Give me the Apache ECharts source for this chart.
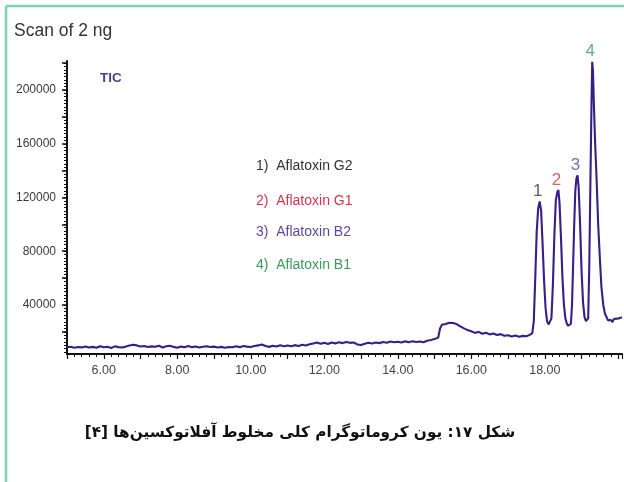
<!DOCTYPE html>
<html>
<head>
<meta charset="utf-8">
<script src="https://cdn.jsdelivr.net/npm/echarts@6/dist/echarts.min.js"></script>
<style>
html,body{margin:0;padding:0;background:#fff;}
#chart{width:624px;height:482px;}
</style>
</head>
<body>
<div id="chart"></div>
<script>
// Retention time (min)
const retentionTime = [
  5.0,5.1,5.2,5.3,5.4,5.5,5.6,5.7,5.8,5.9,
  6.0,6.1,6.2,6.3,6.4,6.5,6.6,6.7,6.8,6.9,
  7.0,7.1,7.2,7.3,7.4,7.5,7.6,7.7,7.8,7.9,
  8.0,8.1,8.2,8.3,8.4,8.5,8.6,8.7,8.8,8.9,
  9.0,9.1,9.2,9.3,9.4,9.5,9.6,9.7,9.8,9.9,
  10.0,10.1,10.2,10.3,10.4,10.5,10.6,10.7,10.8,10.9,
  11.0,11.1,11.2,11.3,11.4,11.5,11.6,11.7,11.8,11.9,
  12.0,12.1,12.2,12.3,12.4,12.5,12.6,12.7,12.8,12.9,
  13.0,13.1,13.2,13.3,13.4,13.5,13.6,13.7,13.8,13.9,
  14.0,14.1,14.2,14.3,14.4,14.5,14.6,14.7,14.8,14.9,
  15.0,15.1,15.15,15.2,15.25,15.3,15.35,15.4,15.45,15.5,15.55,15.6,15.65,15.7,15.8,15.9,
  16.0,16.1,16.2,16.3,16.4,16.5,16.6,16.7,16.8,16.9,
  17.0,17.1,17.2,17.3,17.4,17.5,17.6,17.66,
  17.70,17.74,17.78,17.82,17.86,17.90,17.94,17.98,18.02,18.06,18.10,18.14,18.18,
  18.22,18.26,18.30,18.34,18.37,18.40,18.44,18.48,18.52,18.56,18.60,18.64,18.68,18.71,
  18.74,18.77,18.80,18.83,18.86,18.89,18.92,18.96,19.00,19.04,19.08,19.12,19.15,
  19.18,19.21,19.24,19.27,19.29,19.31,19.34,19.37,19.41,19.45,19.50,19.54,19.59,19.64,19.68,
  19.72,19.76,19.80,19.84,19.88,19.92,19.96,20.00,20.04,20.08,20.10
];
// Total ion current abundance
const ticAbundance = [
  8600,8900,8200,8700,8400,9100,8300,8800,8100,9300,
  8500,8900,8000,9200,8600,8300,9000,9800,10400,9900,
  9100,9500,8700,9200,8900,9600,8400,9300,9700,8800,
  8200,9000,8500,9400,8600,9100,8300,8900,9300,8700,
  9000,8400,8800,8200,8700,8500,9200,8600,9400,9000,
  8700,9500,9900,10600,9400,8800,9600,9100,10000,9300,
  9800,9200,10100,9500,10400,9800,10700,11300,12100,11200,
  11800,11000,12000,11400,12200,11600,12500,11800,12100,10600,
  10200,11100,11900,11300,12000,11600,12400,11900,12800,12200,
  12600,12000,12900,12300,13000,12400,12800,12200,13300,13900,
  14600,15800,22500,25200,24600,25900,25300,26800,27500,26600,27200,25800,25100,24100,22600,21300,
  20400,19200,20000,18600,19300,18100,18800,17600,18300,17100,
  17500,16600,17200,16400,17000,16700,17900,19000,
  28000,60000,95000,112000,117000,110000,85000,58000,38000,28000,25500,25000,30000,
  55000,92000,118000,124000,125500,116000,90000,60000,40000,30000,26000,24500,23800,26000,
  40000,70000,100000,125000,134000,136500,128000,100000,65000,42000,31000,28000,27500,
  30000,70000,130000,190000,221000,214000,185000,160000,133000,101000,73500,53400,40000,33000,31000,
  28500,27600,28800,27200,29600,30400,29800,31000,30200,31300,30800
];

const peakTimes = [17.86, 18.37, 18.89, 19.29];
const peakHeights = [117000, 125500, 136500, 221000];
const peakNumbers = ['1', '2', '3', '4'];
const compoundNames = ['1)  Aflatoxin G2', '2)  Aflatoxin G1', '3)  Aflatoxin B2', '4)  Aflatoxin B1'];
const compoundColors = ['#333333', '#d2364f', '#5b4a9e', '#3d9a5a'];

const xLabelValues = [6, 8, 10, 12, 14, 16, 18];
const yLabelValues = [40000, 80000, 120000, 160000, 200000];
const yMinorTickValues = [];
for (let v = 5000; v <= 220000; v += 2500) yMinorTickValues.push(v);
const yMajorTickValues = [20000, 40000, 60000, 80000, 100000, 120000, 140000, 160000, 180000, 200000, 220000];

const titleText = 'Scan of 2 ng';
const ticText = 'TIC';
const captionText = '\u202Bشکل ۱۷: یون کروماتوگرام کلی مخلوط آفلاتوکسین\u200Cها [۴]\u202C';

const lineData = retentionTime.map((t, i) => [t, ticAbundance[i]]);
const peakData = peakTimes.map((t, i) => ({
  value: [t, peakHeights[i]],
  label: { formatter: peakNumbers[i], color: compoundColors[i] }
}));

const chart = echarts.init(document.getElementById('chart'), null, { renderer: 'canvas' });

const legendGraphics = compoundNames.map((name, i) => ({
  type: 'text',
  left: 256,
  top: [159, 194, 225, 258][i],
  style: {
    text: name,
    fill: compoundColors[i],
    font: '14px "Liberation Sans", Arial, sans-serif'
  }
}));

chart.setOption({
  animation: false,
  backgroundColor: '#ffffff',
  grid: { left: 67, right: 2, top: 61, bottom: 128, containLabel: false },
  xAxis: {
    type: 'value',
    min: 5,
    max: 20.1,
    interval: 1,
    axisLine: { lineStyle: { color: '#111', width: 2 } },
    axisTick: { show: true, length: 5, lineStyle: { color: '#111', width: 1.2 } },
    minorTick: { show: true, splitNumber: 5, length: 3, lineStyle: { color: '#111', width: 1 } },
    splitLine: { show: false },
    axisLabel: {
      customValues: xLabelValues,
      formatter: v => v.toFixed(2),
      margin: 10,
      color: '#444',
      fontSize: 12.5,
      fontFamily: 'Liberation Sans, Arial, sans-serif'
    }
  },
  yAxis: [{
    type: 'value',
    min: 3500,
    max: 221600,
    axisLine: { show: true, lineStyle: { color: '#111', width: 2 } },
    axisTick: { show: true, customValues: yMinorTickValues, length: 3, lineStyle: { color: '#111', width: 1 } },
    splitLine: { show: false },
    axisLabel: {
      customValues: yLabelValues,
      formatter: v => String(v),
      margin: 11,
      color: '#3a3a3a',
      fontSize: 12,
      fontFamily: 'Liberation Sans, Arial, sans-serif'
    }
  }, {
    type: 'value',
    min: 3500,
    max: 221600,
    position: 'left',
    offset: 0,
    axisLine: { show: false },
    axisTick: { show: true, customValues: yMajorTickValues, length: 5, lineStyle: { color: '#111', width: 1.5 } },
    splitLine: { show: false },
    axisLabel: { show: false }
  }],
  series: [{
    type: 'line',
    data: lineData,
    showSymbol: false,
    symbol: 'none',
    smooth: false,
    lineStyle: { color: '#3a1e86', width: 2.1 },
    silent: true
  }, {
    type: 'scatter',
    data: peakData,
    symbolSize: 1,
    itemStyle: { color: 'rgba(0,0,0,0)' },
    label: {
      show: true,
      position: 'top',
      distance: 1,
      offset: [-2, 0],
      fontSize: 17,
      fontFamily: 'Liberation Sans, Arial, sans-serif'
    },
    silent: true
  }],
  graphic: [
    { type: 'line', shape: { x1: 6, y1: 6, x2: 624, y2: 6 }, style: { stroke: '#7bd3b0', lineWidth: 2.5 } },
    { type: 'line', shape: { x1: 6, y1: 6, x2: 6, y2: 482 }, style: { stroke: '#7bd3b0', lineWidth: 2.5 } },
    {
      type: 'text', left: 14, top: 22,
      style: { text: titleText, fill: '#333', font: '17.5px "Liberation Sans", Arial, sans-serif' }
    },
    {
      type: 'text', left: 100, top: 71,
      style: { text: ticText, fill: '#4b3f92', font: 'bold 13.5px "Liberation Sans", Arial, sans-serif' }
    },
    ...legendGraphics,
    {
      type: 'text', x: 300, y: 433,
      style: {
        text: captionText, fill: '#111',
        font: 'bold 15.3px "DejaVu Sans", sans-serif',
        align: 'center', verticalAlign: 'middle'
      }
    }
  ]
});
</script>
</body>
</html>
